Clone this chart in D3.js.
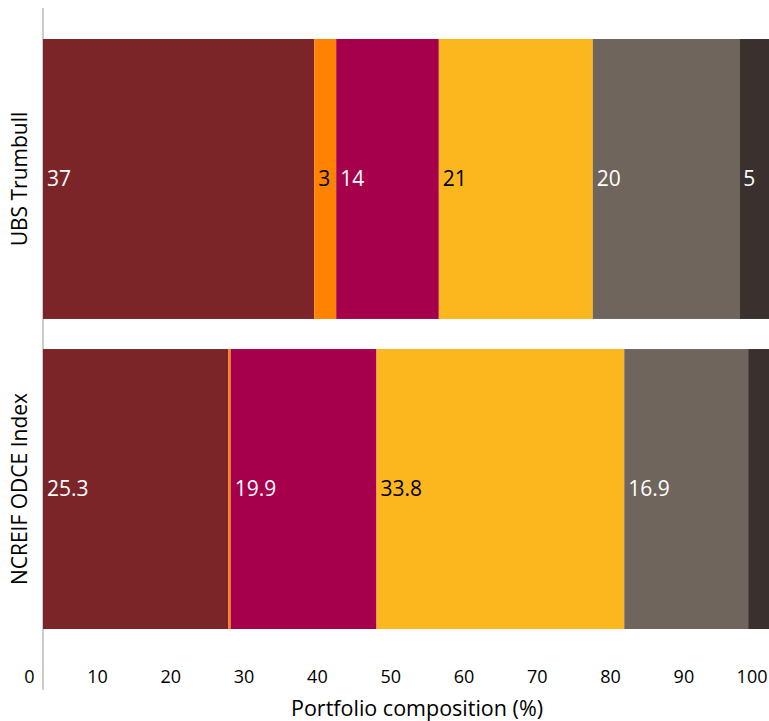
<!DOCTYPE html>
<html lang="en">
<head>
<meta charset="utf-8"/>
<title>Portfolio composition</title>
<script src="https://cdn.jsdelivr.net/npm/d3@7"></script>
<style>
  body { margin: 0; background: #fff; }
  text { font-family: "Open Sans", Lato, sans-serif; }
</style>
</head>
<body>
<svg id="chart"></svg>
<script>
// data
const categories = ['UBS Trumbull', 'NCREIF ODCE Index']
const segments = ['s1', 's2', 's3', 's4', 's5', 's6']
const ubsValues = [37, 3, 14, 21, 20, 5]
const odceValues = [25.3, 0.3, 19.9, 33.8, 16.9, 3.8]
const xTicks = [0, 10, 20, 30, 40, 50, 60, 70, 80, 90, 100]

const colors = ['#7b2529', '#ff8200', '#a6004c', '#fdb71e', '#70655c', '#3a302e']
const textColors = ['#fff', '#000', '#fff', '#000', '#fff', '#fff']

const width = 769
const height = 721

const svg = d3.select('#chart')
  .attr('width', width)
  .attr('height', height)

const rows = categories.map((c, i) => {
  const vals = i === 0 ? ubsValues : odceValues
  const row = { category: c }
  segments.forEach((s, j) => row[s] = vals[j])
  return row
})

const stacked = d3.stack().keys(segments)(rows)

// the 100 tick sits just past the right edge
const x = d3.scaleLinear().domain([0, 100]).range([43, 776])
const y = d3.scaleBand().domain(categories).range([8, 660]).paddingInner(0.097).paddingOuter(0.1)

// left axis line
svg.append('line')
  .attr('x1', 43).attr('x2', 43)
  .attr('y1', 8).attr('y2', 690)
  .attr('stroke', '#cccccc')
  .attr('stroke-width', 2)

const layers = svg.append('g')
  .selectAll('g')
  .data(stacked)
  .enter()
  .append('g')
  .attr('fill', (d, i) => colors[i])

layers.selectAll('rect')
  .data(d => d)
  .enter()
  .append('rect')
  .attr('x', d => x(d[0]))
  .attr('y', d => y(d.data.category))
  .attr('width', d => x(d[1]) - x(d[0]))
  .attr('height', y.bandwidth())

// value labels, dropped when they don't fit in the visible part
const labels = svg.append('g')
stacked.forEach((layer, i) => {
  layer.forEach(d => {
    const v = d[1] - d[0]
    const x0 = x(d[0])
    const visible = Math.min(x(d[1]), width) - x0
    const t = labels.append('text')
      .attr('x', x0 + 4)
      .attr('y', y(d.data.category) + y.bandwidth() / 2)
      .attr('dy', '0.35em')
      .style('font-size', '21px')
      .attr('fill', textColors[i])
      .text(d3.format('~')(+v.toFixed(1)))
    if (t.node().getComputedTextLength() + 8 > visible) t.remove()
  })
})

// x axis
const xAxis = svg.append('g')
  .attr('transform', 'translate(0,667)')
  .call(d3.axisBottom(x).tickValues(xTicks).tickSize(0).tickFormat(d3.format('d')))
xAxis.select('.domain').remove()
xAxis.selectAll('text')
  .attr('text-anchor', 'end')
  .attr('dx', -9)
  .attr('dy', '0.71em')
  .style('font-size', '18px')
  .style('font-family', '"Open Sans", Lato, sans-serif')
  .attr('fill', '#000')

svg.append('text')
  .attr('x', 417)
  .attr('y', 716)
  .attr('text-anchor', 'middle')
  .style('font-size', '21.5px')
  .text('Portfolio composition (%)')

// category labels, rotated
svg.append('g')
  .selectAll('text')
  .data(categories)
  .enter()
  .append('text')
  .attr('transform', d => `translate(27,${y(d) + y.bandwidth() / 2}) rotate(-90)`)
  .attr('text-anchor', 'middle')
  .style('font-size', '21px')
  .text(d => d)
</script>
</body>
</html>
